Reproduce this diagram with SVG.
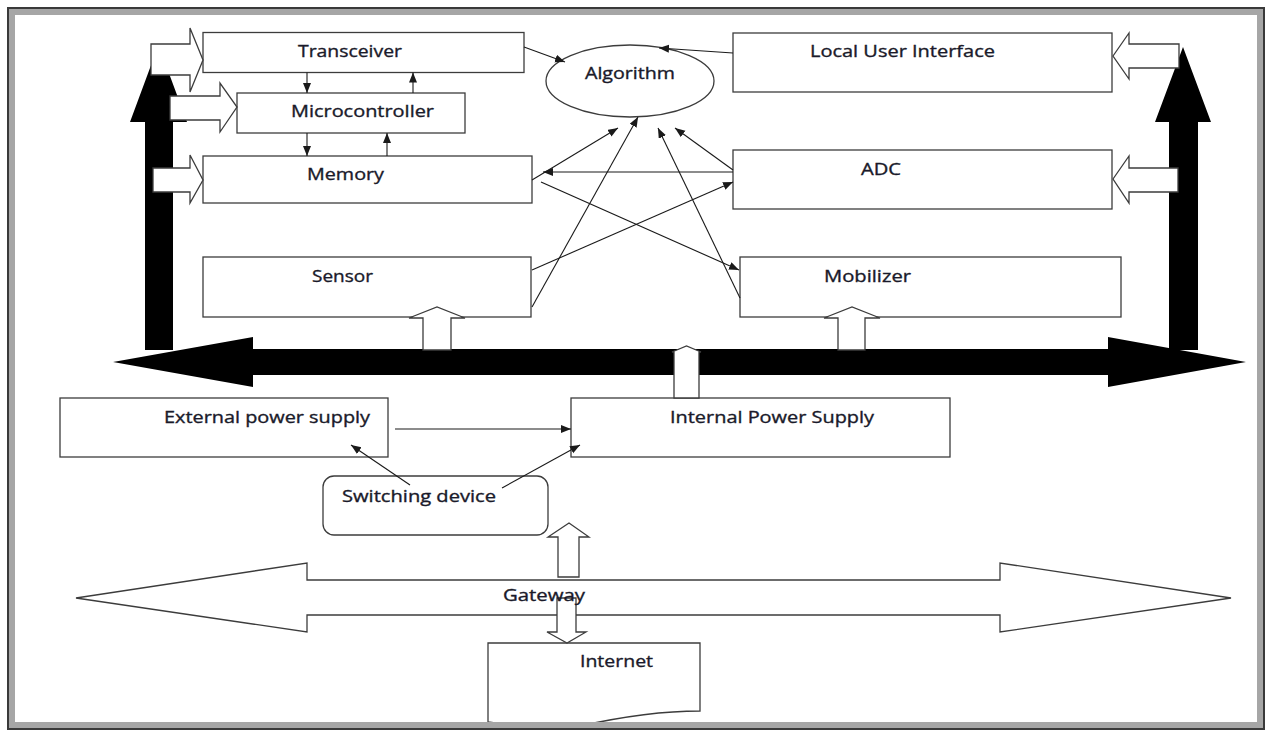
<svg xmlns="http://www.w3.org/2000/svg" width="1272" height="731" viewBox="0 0 1272 731">
<defs>
<marker id="ah" markerUnits="userSpaceOnUse" markerWidth="12" markerHeight="10" refX="10" refY="4" orient="auto">
<path d="M0,0 L10,4 L0,8 Z" fill="#1a1a1a"/>
</marker>
<style>
.box{fill:#fff;stroke:#3c3c3c;stroke-width:1.3}
.lbl{font-family:"Open Sans","Liberation Sans",sans-serif;font-size:16.5px;fill:#1a1a2a;stroke:#1a1a2a;stroke-width:0.35}
.ln{stroke:#1a1a1a;stroke-width:1.1;fill:none;marker-end:url(#ah)}
.blk{fill:#000;stroke:none}
.wa{fill:#fff;stroke:#3c3c3c;stroke-width:1.3;stroke-linejoin:miter}
</style>
</defs>
<rect x="0" y="0" width="1272" height="731" fill="#fff"/>

<g id="transceiver"><rect class="box" x="203" y="32.5" width="321" height="40"/><text class="lbl" x="298" y="57" textLength="104" lengthAdjust="spacingAndGlyphs">Transceiver</text></g>
<g id="microcontroller"><rect class="box" x="237" y="93" width="228" height="40"/><text class="lbl" x="291" y="117" textLength="143" lengthAdjust="spacingAndGlyphs">Microcontroller</text></g>
<g id="memory"><rect class="box" x="203" y="156" width="329" height="47"/><text class="lbl" x="307" y="180" textLength="77" lengthAdjust="spacingAndGlyphs">Memory</text></g>
<g id="algorithm"><ellipse class="box" cx="630" cy="81" rx="84" ry="36"/><text class="lbl" x="585" y="78.5" textLength="90" lengthAdjust="spacingAndGlyphs">Algorithm</text></g>
<g id="local-user-interface"><rect class="box" x="733" y="33" width="379" height="59"/><text class="lbl" x="810" y="57" textLength="185" lengthAdjust="spacingAndGlyphs">Local User Interface</text></g>
<g id="adc"><rect class="box" x="733" y="150" width="379" height="59"/><text class="lbl" x="861" y="175" textLength="40" lengthAdjust="spacingAndGlyphs">ADC</text></g>
<g id="sensor"><rect class="box" x="203" y="257" width="328" height="60"/><text class="lbl" x="312" y="282" textLength="61" lengthAdjust="spacingAndGlyphs">Sensor</text></g>
<g id="mobilizer"><rect class="box" x="740" y="257" width="381" height="60"/><text class="lbl" x="824" y="282" textLength="87" lengthAdjust="spacingAndGlyphs">Mobilizer</text></g>
<g id="external-power-supply"><rect class="box" x="60" y="398" width="328" height="59"/><text class="lbl" x="164" y="423" textLength="206" lengthAdjust="spacingAndGlyphs">External power supply</text></g>
<g id="internal-power-supply"><rect class="box" x="571" y="398" width="379" height="59"/><text class="lbl" x="670" y="423" textLength="204" lengthAdjust="spacingAndGlyphs">Internal Power Supply</text></g>
<g id="switching-device"><rect class="box" x="323" y="476" width="225" height="59" rx="11"/><text class="lbl" x="342" y="502" textLength="154" lengthAdjust="spacingAndGlyphs">Switching device</text></g>
<g id="internet"><path class="box" d="M488,643 H700 V711 C660,711 625,716 580,726 C545,729 515,726 488,722 Z"/><text class="lbl" x="580" y="667" textLength="73" lengthAdjust="spacingAndGlyphs">Internet</text></g>

<g id="bus">
<polygon class="blk" points="158.5,45 187,122 173,122 173,350 145,350 145,122 130,122"/>
<polygon class="blk" points="1183,47 1211,122 1198,122 1198,350 1169,350 1169,122 1155,122"/>
<polygon class="blk" points="113,362 253,337 253,349 1108,349 1108,337 1246,362 1108,387 1108,375 253,375 253,387"/>
</g>

<g id="block-arrows">
<polygon class="wa" points="151,44 190,44 190,28 203,60 190,92 190,75 151,75"/>
<polygon class="wa" points="170,96 220,96 220,83 237,107 220,132 220,120 170,120"/>
<polygon class="wa" points="153,168 190,168 190,155 203,180 190,203 190,192 153,192"/>
<polygon class="wa" points="1113,56 1129,33 1129,44 1179,44 1179,68 1129,68 1129,79"/>
<polygon class="wa" points="1113,179 1129,156 1129,168 1178,168 1178,192 1129,192 1129,203"/>
<polygon class="wa" points="423,350 423,318 409,318 437,307 465,318 451,318 451,350"/>
<polygon class="wa" points="838,350 838,318 824,318 852,307 880,318 865,318 865,350"/>
<polygon class="wa" points="674,398 674,352 672,352 686.5,346 701,352 699,352 699,398"/>
</g>

<g id="gateway">
<polygon class="wa" points="76,598 307,563 307,580 1000,580 1000,563 1231,598 1000,632 1000,615 307,615 307,632"/>
<polygon class="wa" points="558,577 558,537 548,537 569,523 589,537 579,537 579,577"/>
<polygon class="wa" points="557,598 576,598 576,632 586,632 567,643 547,632 557,632"/>
<text class="lbl" x="503" y="601" textLength="82" lengthAdjust="spacingAndGlyphs">Gateway</text>
</g>

<g id="connectors">
<line class="ln" x1="307" y1="72.5" x2="307" y2="93"/>
<line class="ln" x1="413" y1="93" x2="413" y2="72.5"/>
<line class="ln" x1="307" y1="133" x2="307" y2="156"/>
<line class="ln" x1="387" y1="156" x2="387" y2="133"/>
<line class="ln" x1="524" y1="47" x2="565" y2="62"/>
<line class="ln" x1="733" y1="53" x2="659" y2="48"/>
<line class="ln" x1="532" y1="180" x2="618" y2="128"/>
<line class="ln" x1="733" y1="172" x2="543" y2="172"/>
<line class="ln" x1="541" y1="182" x2="739" y2="270"/>
<line class="ln" x1="532" y1="307" x2="638" y2="117"/>
<line class="ln" x1="532" y1="270" x2="733" y2="182"/>
<line class="ln" x1="740" y1="298" x2="658" y2="128"/>
<line class="ln" x1="733" y1="170" x2="675" y2="128"/>
<line class="ln" x1="395" y1="429" x2="571" y2="429"/>
<line class="ln" x1="410" y1="485" x2="351" y2="445"/>
<line class="ln" x1="502" y1="488" x2="580" y2="445"/>
</g>

<g id="frame">
<rect x="12" y="12" width="1248" height="713" fill="none" stroke="#a6a6a6" stroke-width="6"/>
<rect x="8" y="8" width="1256" height="721" fill="none" stroke="#3a3a3a" stroke-width="2"/>
</g>
</svg>
